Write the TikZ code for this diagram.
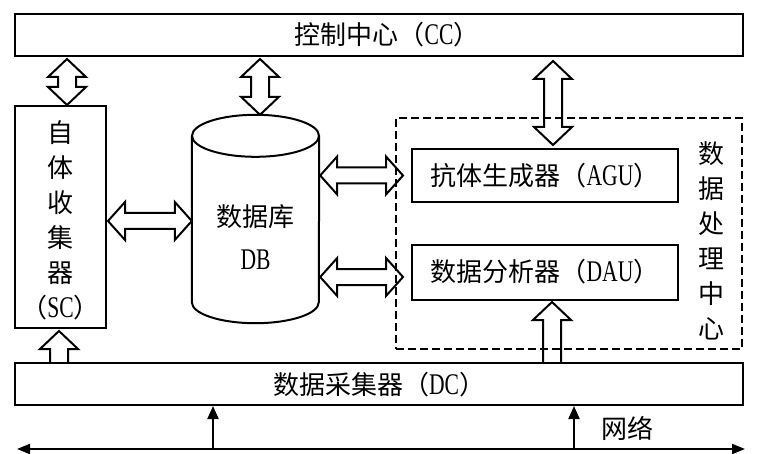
\documentclass[tikz,border=0pt]{standalone}
\usepackage{fontspec}
\setmainfont{Liberation Serif}
\newfontfamily\cjk{Noto Sans CJK SC}
\newfontfamily\lat[FakeStretch=0.72]{Liberation Serif}
\usetikzlibrary{calc,arrows.meta}
\newcommand\lt[1]{{\lat\fontsize{30}{30}\selectfont #1}}
\newcommand\vdbl[2]{\draw[harrow] (#1) -- ($(#1)+(19,18)$) -- ($(#1)+(9,18)$) -- ($(#2)+(9,-18)$) -- ($(#2)+(19,-18)$) -- (#2) -- ($(#2)+(-19,-18)$) -- ($(#2)+(-9,-18)$) -- ($(#1)+(-9,18)$) -- ($(#1)+(-19,18)$) -- cycle;}
\newcommand\hdbl[2]{\draw[harrow] (#1) -- ($(#1)+(17,-19)$) -- ($(#1)+(17,-8)$) -- ($(#2)+(-17,-8)$) -- ($(#2)+(-17,-19)$) -- (#2) -- ($(#2)+(-17,19)$) -- ($(#2)+(-17,8)$) -- ($(#1)+(17,8)$) -- ($(#1)+(17,19)$) -- cycle;}
\newcommand\vup[2]{\draw[harrow] ($(#1)+(-9,0)$) -- ($(#2)+(-9,18)$) -- ($(#2)+(-19,18)$) -- (#2) -- ($(#2)+(19,18)$) -- ($(#2)+(9,18)$) -- ($(#1)+(9,0)$);}
\begin{document}
\begin{tikzpicture}[x=1pt,y=-1pt,
  box/.style={draw, line width=2pt, inner sep=0pt},
  harrow/.style={draw, line width=2pt, line join=miter},
  lbl/.style={font=\cjk\fontsize{26}{26}\selectfont, inner sep=0pt},
  vlbl/.style={font=\cjk\fontsize{26}{35}\selectfont, inner sep=0pt, align=center},
  thin/.style={line width=2pt, -{Triangle[length=13pt,width=11pt]}},
  net/.style={line width=2pt, {Triangle[length=13pt,width=10pt]}-{Triangle[length=13pt,width=10pt]}}]
\useasboundingbox (0,0) rectangle (757,454);
% boxes
\node[box, minimum width=728pt, minimum height=42pt] (cc) at (379,35) {};
\node[lbl] (cct) at (387,35) {控制中心（\lt{CC}）};
\node[box, minimum width=91pt, minimum height=222pt] (sc) at (60.5,217) {};
\node[vlbl] (sct) at (60.5,220) {自\\体\\收\\集\\器\\（\lt{SC}）};
\node[minimum width=127pt, minimum height=208pt, inner sep=0pt] (db) at (255.5,219) {};
\draw[line width=2pt] ($(db.north)+(0,21)$) ellipse [x radius=63.5pt, y radius=21pt];
\draw[line width=2pt] ($(db.north west)+(0,21)$) -- ($(db.south west)+(0,-21)$)
  arc [start angle=180, end angle=360, x radius=63.5pt, y radius=21pt]
  -- ($(db.north east)+(0,21)$);
\node[lbl] (dbt1) at (255.5,217) {数据库};
\node[lbl] (dbt2) at (255.5,260) {\lt{DB}};
\node[box, dashed, dash pattern=on 8pt off 4pt, minimum width=346pt, minimum height=231pt] (dpc) at (569,233.5) {};
\node[vlbl] (dpct) at (711,241) {数\\据\\处\\理\\中\\心};
\node[box, minimum width=266pt, minimum height=53pt] (agu) at (545,175.5) {};
\node[lbl] (agut) at (545,176) {抗体生成器（\lt{AGU}）};
\node[box, minimum width=266pt, minimum height=55pt] (dau) at (545,272.5) {};
\node[lbl] (daut) at (545,272) {数据分析器（\lt{DAU}）};
\node[box, minimum width=728pt, minimum height=42pt] (dc) at (379,384) {};
\node[lbl] (dct) at (379,385) {数据采集器（\lt{DC}）};
% hollow arrows
\coordinate (x1) at (67,0);
\coordinate (x2) at (260,0);
\coordinate (x3) at (553,0);
\coordinate (x4) at (59,0);
\coordinate (x5) at (552,0);
\coordinate (y1) at (0,221);
\coordinate (y2) at (0,277);
\coordinate (a1) at ($(cc.south -| x1)+(0,2)$);
\coordinate (b1) at (sc.north -| x1);
\vdbl{a1}{b1}
\coordinate (a2) at ($(cc.south -| x2)+(0,2)$);
\coordinate (b2) at (db.north -| x2);
\vdbl{a2}{b2}
\coordinate (a3) at ($(cc.south -| x3)+(0,4)$);
\coordinate (b3) at ($(agu.north -| x3)+(0,-3)$);
\vdbl{a3}{b3}
\coordinate (a4) at ($(sc.east |- y1)+(1,0)$);
\coordinate (b4) at (db.west |- y1);
\hdbl{a4}{b4}
\coordinate (a5) at ($(db.east |- agu.west)+(1,0)$);
\coordinate (b5) at ($(agu.west)+(-8,0)$);
\hdbl{a5}{b5}
\coordinate (a6) at ($(db.east |- y2)+(1,0)$);
\coordinate (b6) at ($(dau.west |- y2)+(-8,0)$);
\hdbl{a6}{b6}
\coordinate (a7) at (dc.north -| x4);
\coordinate (b7) at ($(sc.south -| x4)+(0,2)$);
\vup{a7}{b7}
\coordinate (a8) at (dc.north -| x5);
\coordinate (b8) at ($(dau.south -| x5)+(0,1)$);
\vup{a8}{b8}
% network
\coordinate (netL) at (17,449);
\coordinate (netR) at (745,449);
\draw[net] (netL) -- (netR);
\coordinate (n1) at (213,449);
\coordinate (n2) at (574,449);
\draw[thin] (n1) -- (n1 |- dc.south);
\draw[thin] (n2) -- (n2 |- dc.south);
\node[lbl] (nett) at (627,428) {网络};
\end{tikzpicture}
\end{document}
